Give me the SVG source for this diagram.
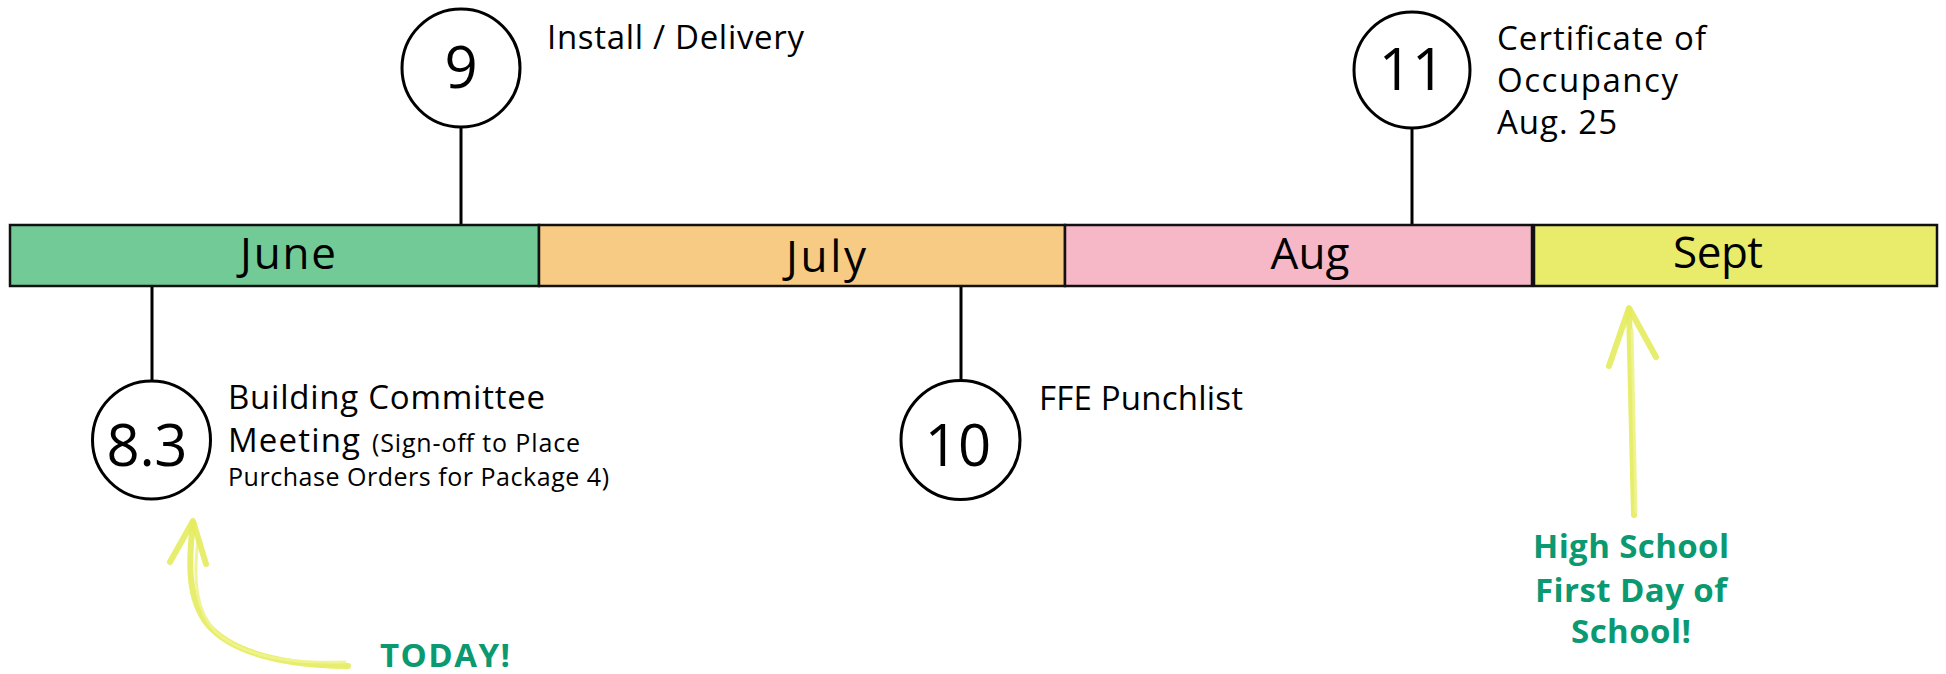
<svg xmlns="http://www.w3.org/2000/svg" width="1946" height="674" viewBox="0 0 1946 674">
<style>
.bar{stroke:#111;stroke-width:2.5}
.ms{fill:#fff;stroke:#000;stroke-width:3}
.num{font-family:"Open Sans","Liberation Sans",sans-serif;font-size:58px;fill:#000;text-anchor:middle}
.mon{font-family:"Open Sans","Liberation Sans",sans-serif;font-size:44px;fill:#000;text-anchor:middle}
.lbl{font-family:"Open Sans","Liberation Sans",sans-serif;font-size:33px;fill:#000}
.sm{font-size:25px}
.note{font-family:"Open Sans","Liberation Sans",sans-serif;font-size:33px;font-weight:700;fill:#0a9970}
.conn{stroke:#000;stroke-width:3;fill:none}
.hl{fill:none;stroke:#e4eb5c;stroke-width:6;stroke-linecap:round;stroke-linejoin:round;opacity:0.9}
.hl2{fill:none;stroke:#eef38e;stroke-width:3;stroke-linecap:round;opacity:0.9}
</style>
<rect width="1946" height="674" fill="#fff"/>
<g id="connectors">
<line class="conn" x1="461" y1="127" x2="461" y2="225"/>
<line class="conn" x1="1412" y1="128" x2="1412" y2="225"/>
<line class="conn" x1="152" y1="286" x2="152" y2="381"/>
<line class="conn" x1="961" y1="286" x2="961" y2="380"/>
</g>
<g id="month-june">
<rect class="bar" x="10" y="225" width="529" height="61" fill="#72cb97"/>
<text class="mon" x="288" y="269" textLength="96">June</text>
</g>
<g id="month-july">
<rect class="bar" x="539" y="225" width="526" height="61" fill="#f7cb83"/>
<text class="mon" x="826" y="272" textLength="80">July</text>
</g>
<g id="month-aug">
<rect class="bar" x="1065" y="225" width="467" height="61" fill="#f6b7c7"/>
<text class="mon" x="1310" y="269" textLength="79">Aug</text>
</g>
<g id="month-sept">
<rect class="bar" x="1534" y="225" width="403" height="61" fill="#e9eb6b"/>
<text class="mon" x="1718" y="268" textLength="90">Sept</text>
</g>
<g id="milestone-9">
<circle class="ms" cx="461" cy="68" r="59"/>
<text class="num" x="461" y="88">9</text>
<text class="lbl" x="547" y="49" textLength="257">Install / Delivery</text>
</g>
<g id="milestone-11">
<circle class="ms" cx="1412" cy="70" r="58"/>
<text class="num" x="1412" y="90">11</text>
<text class="lbl" x="1497" y="50" textLength="209">Certificate of</text>
<text class="lbl" x="1497" y="92" textLength="181">Occupancy</text>
<text class="lbl" x="1497" y="134" textLength="120">Aug. 25</text>
</g>
<g id="milestone-8-3">
<circle class="ms" cx="151.5" cy="440" r="59"/>
<text class="num" x="147" y="466" textLength="81">8.3</text>
<text class="lbl" x="228" y="409" textLength="317">Building Committee</text>
<text class="lbl" x="228" y="452"><tspan textLength="132">Meeting</tspan><tspan class="sm" x="372" textLength="208">(Sign-off to Place</tspan></text>
<text class="lbl sm" x="228" y="486" textLength="381">Purchase Orders for Package 4)</text>
</g>
<g id="milestone-10">
<circle class="ms" cx="960.5" cy="440" r="59.5"/>
<text class="num" x="958" y="466">10</text>
<text class="lbl" x="1039" y="410" textLength="204">FFE Punchlist</text>
</g>
<g id="today-note">
<path class="hl" d="M193 523 C188 565 188 600 208 625 C230 650 275 665 348 666"/>
<path class="hl2" d="M198 540 C193 580 196 612 216 632 C240 654 285 664 345 662"/>
<path class="hl" d="M170 562 L193 521 L206 564"/>
<text class="note" x="380" y="667" textLength="130">TODAY!</text>
</g>
<g id="school-note">
<path class="hl" d="M1629 310 L1634 515"/>
<path class="hl2" d="M1632 330 L1636 512"/>
<path class="hl" d="M1609 366 L1629 308 L1656 357"/>
<text class="note" x="1631" y="558" text-anchor="middle" textLength="196">High School</text>
<text class="note" x="1631" y="602" text-anchor="middle" textLength="192">First Day of</text>
<text class="note" x="1631" y="643" text-anchor="middle" textLength="120">School!</text>
</g>
</svg>
